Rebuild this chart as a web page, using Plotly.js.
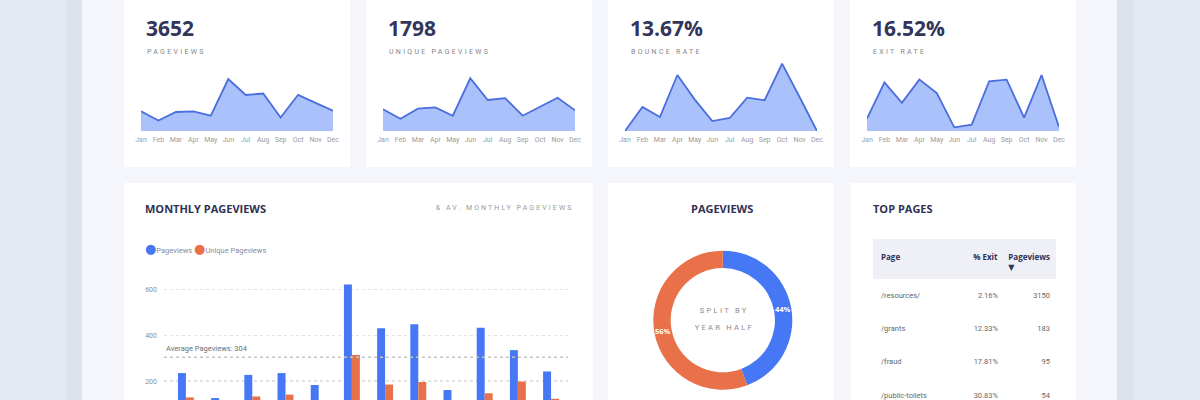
<!DOCTYPE html>
<html><head><meta charset="utf-8">
<script src="https://cdn.plot.ly/plotly-3.0.1.min.js"></script>
<style>html,body{margin:0;padding:0;width:1200px;height:400px;overflow:hidden;background:#e3e9f0}</style>
</head><body><div id="chart" style="width:1200px;height:480px"></div>
<script>
// ---------- data ----------
const months = ['Jan','Feb','Mar','Apr','May','Jun','Jul','Aug','Sep','Oct','Nov','Dec'];
const pageviews = [235,126,227,235,183,621,430,448,161,432,335,242];
const uniquePageviews = [129,73,133,141,91,314,185,196,91,147,198,123];
const bounceRate = [0,12.6,7.3,29.3,16.4,5.2,6.8,17.4,16.1,35.2,17.8,0];
const exitRate = [6.8,26.5,15.3,28.0,20.7,2.0,3.5,27.1,28.0,7.3,30.5,2.2];
const kpiValues = ['3652','1798','13.67%','16.52%'];
const kpiLabels = ['PAGEVIEWS','UNIQUE PAGEVIEWS','BOUNCE RATE','EXIT RATE'];
const avgPageviews = 304;
const halfLabels = ['Jan – Jun','Jul – Dec'];
const topPages = ['/resources/','/grants','/fraud','/public-toilets'];
const topExit = ['2.16%','12.33%','17.81%','30.83%'];
const topPageviews = [3150,183,95,54];
const barTickVals = [200,400,600];

// ---------- layout helpers ----------
const W = 1200, H = 480;
const fx = p => p / W;
const fy = p => 1 - p / H;
const NAVY = '#2f3156', BLUE = '#4677f4', ORANGE = '#e9714a';
const SMALL = 'Roboto, "DejaVu Sans", sans-serif';
const BOLD = '"Open Sans", "DejaVu Sans", sans-serif';
const cardLefts = [124, 366, 608, 850];
const sparkSeries = [pageviews, uniquePageviews, bounceRate, exitRate];
const sparkHeadroom = [1.365, 1.347, 1.055, 1.268];

const traces = [];
const layout = {
  width: W, height: H, margin: {l:0, r:0, t:0, b:0},
  paper_bgcolor: '#e3e9f0', plot_bgcolor: 'rgba(0,0,0,0)',
  showlegend: false, barmode: 'group', bargap: 0.52, bargroupgap: 0,
  font: {family: SMALL, color: '#888'},
  shapes: [], annotations: []
};
const rect = (x0, y0, x1, y1, color) => ({type:'rect', xref:'paper', yref:'paper', layer:'below',
  x0: fx(x0), x1: fx(x1), y0: fy(y1), y1: fy(y0), fillcolor: color, line: {width: 0}});
layout.shapes.push(rect(66, 0, 82, H, '#dde3eb'));
layout.shapes.push(rect(1117, 0, 1133, H, '#dde3eb'));
layout.shapes.push(rect(82, 0, 1117, H, '#f5f6fc'));
cardLefts.forEach(L => layout.shapes.push(rect(L, -5, L + 226, 167, '#ffffff')));
layout.shapes.push(rect(124, 183, 593, H, '#ffffff'));
layout.shapes.push(rect(608, 183, 834, H, '#ffffff'));
layout.shapes.push(rect(851, 183, 1076, H, '#ffffff'));
layout.shapes.push(rect(873, 239, 1056, 279, '#eef0f6'));

const spacedIdx = {};
const addAnn = (x, y, text, opts, ls) => {
  if (ls) spacedIdx[layout.annotations.length] = ls;
  layout.annotations.push(Object.assign({xref:'paper', yref:'paper', x: fx(x), y: fy(y),
    text, showarrow: false, xanchor: 'left', yanchor: 'middle', align: 'left'}, opts || {}));
};

// ---------- KPI sparklines ----------
sparkSeries.forEach((vals, i) => {
  const n = i + 1, L = cardLefts[i];
  traces.push({type:'scatter', mode:'lines', x: months, y: vals, xaxis: 'x' + n, yaxis: 'y' + n,
    fill: 'tozeroy', fillcolor: '#aac1fb', line: {color: '#4a6edd', width: 1.8, shape: 'linear'},
    hoverinfo: 'skip'});
  layout['xaxis' + n] = {domain: [fx(L + 17), fx(L + 209)], type: 'category', range: [0, 11],
    anchor: 'y' + n, showgrid: false, zeroline: false, showline: false, ticks: '',
    tickfont: {size: 7, color: '#9c9c9c', family: SMALL}, ticklabelstandoff: 3, fixedrange: true};
  layout['yaxis' + n] = {domain: [fy(131), fy(60)], range: [0, Math.max(...vals) * sparkHeadroom[i]],
    anchor: 'x' + n, visible: false, fixedrange: true};
  addAnn(L + 20, 28, kpiValues[i], {font: {family: BOLD, size: 21, color: '#33355a', weight: 700}});
  addAnn(L + 21, 51.5, kpiLabels[i], {font: {family: SMALL, size: 7, color: '#858585'}}, 2.3);
});

// ---------- monthly bars ----------
traces.push({type:'bar', name:'Pageviews', x: months, y: pageviews, xaxis:'x5', yaxis:'y5', marker:{color: BLUE}});
traces.push({type:'bar', name:'Unique Pageviews', x: months, y: uniquePageviews, xaxis:'x5', yaxis:'y5', marker:{color: ORANGE}});
layout.xaxis5 = {domain: [fx(164), fx(568)], type: 'category', range: [-0.66, 11.51], anchor: 'y5',
  showgrid: false, zeroline: false, showline: false, ticks: '', showticklabels: false, fixedrange: true};
layout.yaxis5 = {domain: [fy(427), fy(260)], range: [0, 727.7], anchor: 'x5', tickvals: barTickVals,
  showgrid: true, gridcolor: '#e2e2e2', gridwidth: 1.4, griddash: 'dot', zeroline: false, showline: false,
  ticks: '', ticklabelstandoff: 6, tickfont: {size: 7, color: '#8c8c8c', family: SMALL}, fixedrange: true};
layout.shapes.push({type:'line', xref:'x5 domain', yref:'y5', x0: 0, x1: 1, y0: avgPageviews, y1: avgPageviews,
  line: {color: '#c4c4c4', width: 1.5, dash: 'dot'}});
layout.annotations.push({xref:'x5 domain', yref:'y5', x: 0, y: avgPageviews, yshift: 9, xanchor:'left', yanchor:'middle',
  align:'left', showarrow:false, text: 'Average Pageviews: ' + avgPageviews, font: {size: 7.5, color: '#6f6f6f', family: SMALL}});
addAnn(143, 208, 'MONTHLY PAGEVIEWS', {font: {family: BOLD, size: 11, color: NAVY, weight: 700}});
addAnn(575, 208, '& AV. MONTHLY PAGEVIEWS', {xanchor: 'right', align: 'right',
  font: {family: SMALL, size: 7, color: '#999'}}, 2.1);
addAnn(143, 248.7,
  '<span style="color:' + BLUE + ';font-size:13px">●</span>Pageviews <span style="color:' + ORANGE + ';font-size:13px">●</span>Unique Pageviews',
  {font: {family: SMALL, size: 7.5, color: '#8a8a9a'}});

// ---------- donut ----------
const halfSums = [pageviews.slice(0, 6).reduce((a, b) => a + b, 0), pageviews.slice(6).reduce((a, b) => a + b, 0)];
const donut = {cx: 722.8, cy: 320.2, r: 69.5, hole: 0.75};
traces.push({type:'pie', labels: halfLabels, values: halfSums, hole: donut.hole, sort: false, direction: 'clockwise', rotation: 0,
  marker: {colors: [BLUE, ORANGE], line: {width: 0}}, textinfo: 'none',
  domain: {x: [fx(donut.cx - donut.r), fx(donut.cx + donut.r)], y: [fy(donut.cy + donut.r), fy(donut.cy - donut.r)]}, hoverinfo: 'skip'});
// percent labels at the middle of each ring segment
const total = halfSums[0] + halfSums[1];
let cum = 0;
halfSums.forEach(v => {
  const mid = (cum + v / 2) / total * 2 * Math.PI; cum += v;
  const rr = donut.r * (1 + donut.hole) / 2;
  addAnn(donut.cx + rr * Math.sin(mid), donut.cy - rr * Math.cos(mid), Math.round(v / total * 100) + '%',
    {xanchor: 'center', align: 'center', font: {family: BOLD, size: 7.5, color: '#ffffff', weight: 700}});
});
addAnn(722, 208, 'PAGEVIEWS', {xanchor: 'center', align: 'center', font: {family: BOLD, size: 11, color: NAVY, weight: 700}});
addAnn(724, 310, 'SPLIT BY', {xanchor: 'center', align: 'center', font: {family: SMALL, size: 7.5, color: '#8a8a8a'}}, 2.3);
addAnn(724, 327.7, 'YEAR HALF', {xanchor: 'center', align: 'center', font: {family: SMALL, size: 7.5, color: '#8a8a8a'}}, 2.3);

// ---------- table ----------
addAnn(871, 208, 'TOP PAGES', {font: {family: BOLD, size: 11, color: NAVY, weight: 700}});
const nb = '\u00a0';
traces.push({type:'table', domain: {x: [fx(873), fx(1058)], y: [fy(H), fy(243)]}, columnwidth: [87, 46, 52],
  header: {values: ['<b>Page</b>', '<b>% Exit</b>', '<b>Pageviews</b><br>▼' + nb.repeat(17)], align: ['left', 'right', 'right'],
    height: 41, fill: {color: 'rgba(0,0,0,0)'}, line: {width: 0, color: 'rgba(0,0,0,0)'},
    font: {family: BOLD, size: 8, color: NAVY}},
  cells: {values: [topPages, topExit, topPageviews], align: ['left', 'right', 'right'], height: 33.3,
    fill: {color: 'rgba(0,0,0,0)'}, line: {width: 0, color: 'rgba(0,0,0,0)'},
    font: {family: SMALL, size: 7.5, color: '#666'}}});

Plotly.newPlot('chart', traces, layout, {staticPlot: true, displayModeBar: false}).then(gd => {
  Object.keys(spacedIdx).forEach(k => {
    const t = gd.querySelector('.annotation[data-index="' + k + '"] .annotation-text');
    if (t) t.style.letterSpacing = spacedIdx[k] + 'px';
  });
});
</script></body></html>
